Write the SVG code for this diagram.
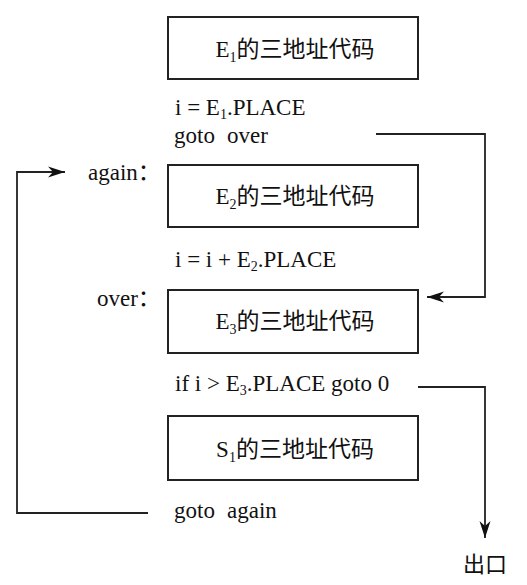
<svg xmlns="http://www.w3.org/2000/svg" width="527" height="585" viewBox="0 0 527 585">
  <style>
    .box { fill: #fff; stroke: #222; stroke-width: 2; }
    .line { fill: none; stroke: #222; stroke-width: 1.8; }
  </style>
  <defs>
    <marker id="arr" markerUnits="userSpaceOnUse" markerWidth="18" markerHeight="12" refX="17" refY="6" orient="auto">
      <path d="M0,0.5 L17,6 L0,11.5 L5,6 Z" fill="#111"/>
    </marker>
  </defs>
  <rect width="527" height="585" fill="#fff"/>

  <g font-family="'Liberation Serif', 'Noto Sans CJK SC', serif" font-size="23" fill="#111">
  <g id="node-e1">
    <rect class="box" x="168" y="17" width="250" height="62"/>
    <text x="295" y="57" text-anchor="middle">E<tspan font-size="14" dy="5">1</tspan><tspan dy="-5">的三地址代码</tspan></text>
  </g>
  <g id="text-e1">
    <text x="175" y="115">i = E<tspan font-size="14" dy="4">1</tspan><tspan dy="-4">.PLACE</tspan></text>
    <text x="174" y="143">goto <tspan x="227">over</tspan></text>
  </g>
  <g id="label-again">
    <text x="88" y="180">again：</text>
  </g>
  <g id="node-e2">
    <rect class="box" x="168" y="165" width="250" height="62"/>
    <text x="295" y="204" text-anchor="middle">E<tspan font-size="14" dy="5">2</tspan><tspan dy="-5">的三地址代码</tspan></text>
  </g>
  <g id="text-e2">
    <text x="175" y="267">i = i + E<tspan font-size="14" dy="4">2</tspan><tspan dy="-4">.PLACE</tspan></text>
  </g>
  <g id="label-over">
    <text x="97" y="306">over：</text>
  </g>
  <g id="node-e3">
    <rect class="box" x="168" y="290" width="250" height="63"/>
    <text x="295" y="329" text-anchor="middle">E<tspan font-size="14" dy="5">3</tspan><tspan dy="-5">的三地址代码</tspan></text>
  </g>
  <g id="text-e3">
    <text x="175" y="391">if i &gt; E<tspan font-size="14" dy="4">3</tspan><tspan dy="-4">.PLACE goto 0</tspan></text>
  </g>
  <g id="node-s1">
    <rect class="box" x="168" y="416" width="250" height="64"/>
    <text x="295" y="457" text-anchor="middle">S<tspan font-size="14" dy="5">1</tspan><tspan dy="-5">的三地址代码</tspan></text>
  </g>
  <g id="text-s1">
    <text x="174" y="518">goto <tspan x="227">again</tspan></text>
  </g>
  <g id="label-exit">
    <text x="463" y="572" font-size="22">出口</text>
  </g>
  </g>

  <g id="connectors">
    <path class="line" d="M376,134 H485 V297 H427" marker-end="url(#arr)"/>
    <path class="line" d="M148,513 H17 V172 H65" marker-end="url(#arr)"/>
    <path class="line" d="M418,387 H485 V538" marker-end="url(#arr)"/>
  </g>
</svg>
